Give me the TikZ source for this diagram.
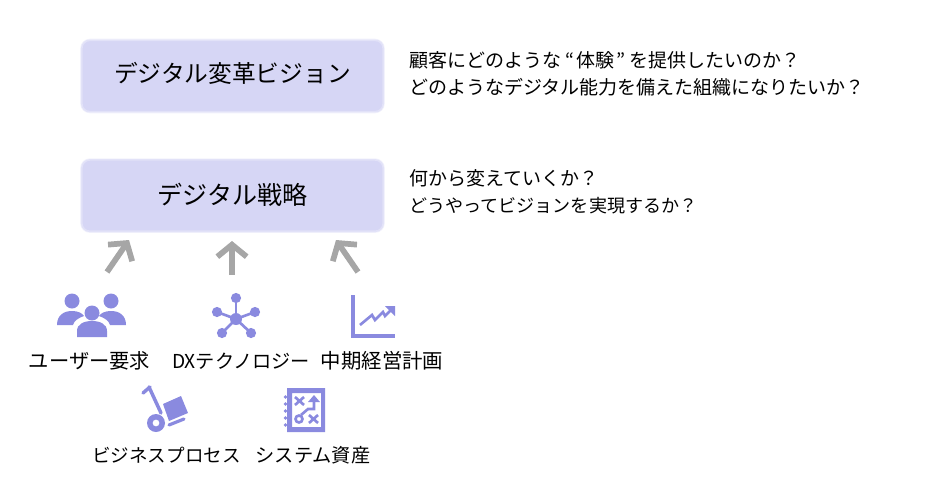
\documentclass[tikz,border=0pt]{standalone}
\usepackage{fontspec}
\setmainfont{Noto Sans CJK JP}
\usetikzlibrary{arrows.meta}
\usetikzlibrary{positioning}
\definecolor{boxfill}{HTML}{D6D6F5}
\definecolor{boxedge}{HTML}{E2E2F8}
\definecolor{iconfill}{HTML}{8A8ADF}
\definecolor{arrowgray}{HTML}{A6A6A6}
\tikzset{
  planbox/.style={preaction={draw=boxedge!45!white, line width=2.4pt, rounded corners=6pt},
    draw=boxedge, line width=1.2pt, fill=boxfill, rounded corners=6pt,
    minimum width=226pt, minimum height=53.5pt, inner sep=0pt, text depth=3pt,
    font=\fontsize{17.8}{20}\selectfont},
  notetext/.style={align=left, inner sep=0pt, font=\fontsize{14.25}{20.2}\selectfont},
  iconlabel/.style={inner sep=0pt, font=\fontsize{#1}{17}\selectfont},
  grayarrow/.style={draw=arrowgray, line width=4.3pt, -{Straight Barb[length=9pt,width=22pt]}},
  iconline/.style={draw=iconfill, line width=2pt},
}
\begin{document}
\begin{tikzpicture}[x=0.75pt, y=-0.75pt]
    \useasboundingbox (0,0) rectangle (938,500);
    \node [planbox, text depth=5pt] (vision) at (232.5,76) {デジタル変革ビジョン};
    \node [planbox, below=35pt of vision, font=\fontsize{18.8}{20}\selectfont] (strategy) {デジタル戦略};
    \node [notetext, anchor=north west] (visionnote) at (409,51)
      {顧客にどのような\kern3pt“\kern1.5pt体験\kern1.5pt”\kern3ptを提供したいのか？\\どのようなデジタル能力を備えた組織になりたいか？};
    \node [notetext, anchor=north west] (strategynote) at (409,169)
      {何から変えていくか？\\\fontsize{13.55}{20.2}\selectfont どうやってビジョンを実現するか？};

    % arrows up to the strategy box
    \coordinate (userfoot) at (107,272);
    \coordinate (usertip) at (129,240);
    \coordinate (techfoot) at (232,275);
    \coordinate (techtip) at (232,241);
    \coordinate (planfoot) at (358,272);
    \coordinate (plantip) at (336,240);
    \draw [grayarrow] (userfoot) -- (usertip);
    \draw [grayarrow] (techfoot) -- (techtip);
    \draw [grayarrow] (planfoot) -- (plantip);

    % labels
    \node [iconlabel=15.2] (userlabel) at (89.5,361) {ユーザー要求};
    \node [iconlabel=14.4] (techlabel) at (241,361) {DXテクノロジー};
    \node [iconlabel=15.3] (planlabel) at (382,361) {中期経営計画};
    \node [iconlabel=13.9] (processlabel) at (166.5,455) {ビジネスプロセス};
    \node [iconlabel=14.4] (systemlabel) at (313,455) {システム資産};

    % people
    \fill [iconfill] (72,301) circle (7.5) (111,301) circle (7.5);
    \fill [iconfill] (57,325) .. controls (57,315) and (64,311) .. (72,311)
      .. controls (78,311) and (82,313) .. (84,316) .. controls (78,318) and (74,321) .. (73,325) -- cycle;
    \fill [iconfill] (126,325) .. controls (126,315) and (119,311) .. (111,311)
      .. controls (105,311) and (101,313) .. (99,316) .. controls (105,318) and (109,321) .. (110,325) -- cycle;
    \fill [iconfill] (92,313) circle (7.5);
    \fill [iconfill] (77,337) -- (77,331) .. controls (77,324) and (84,321) .. (92,321)
      .. controls (100,321) and (107,324) .. (107,331) -- (107,337) -- cycle;

    % network
    \foreach \px/\py in {236/298, 217/312, 222/333, 255/312, 251/333}{
      \draw [iconline] (236,319) -- (\px,\py);
      \fill [iconfill] (\px,\py) circle (5.1);
    }
    \fill [iconfill] (236,319) circle (6);

    % chart
    \draw [iconline, line width=2.4pt] (353,295) -- (353,336) -- (395,336);
    \draw [iconline] (360,325) -- (372,315) -- (375,320) -- (383,312) -- (385,316) -- (391,310);
    \fill [iconfill] (385,306) -- (395,306) -- (395,316) -- cycle;

    % dolly
    \draw [iconline, line cap=round, line width=2.6pt] (143,393) -- (150,387);
    \draw [iconline, line cap=round, line width=2.6pt] (149,387) -- (161,413);
    \draw [iconline, line cap=round, line width=2.4pt] (169,425) -- (184,419);
    \fill [iconfill] (163,404) -- (181,396) -- (188,413) -- (169,421) -- cycle;
    \fill [iconfill, even odd rule] (156,423) circle (9) (156,423) circle (3.5);

    % notebook
    \fill [iconfill, even odd rule] (287,388) rectangle (325,432) (292,393) rectangle (321,427);
    \foreach \ny in {397,404,411,418,425}{
      \fill [iconfill] (285.5,\ny) circle (1.8);
    }
    \draw [iconline] (295,397) -- (304,405) (304,397) -- (295,405);
    \draw [iconline] (309,415) -- (318,423) (318,415) -- (309,423);
    \draw [iconline] (299,419) circle (3.5);
    \draw [iconline] (301,415) -- (308,409) -- (314,409) -- (314,399);
    \fill [iconfill] (308,402) -- (314,395) -- (320,402) -- cycle;
\end{tikzpicture}
\end{document}
